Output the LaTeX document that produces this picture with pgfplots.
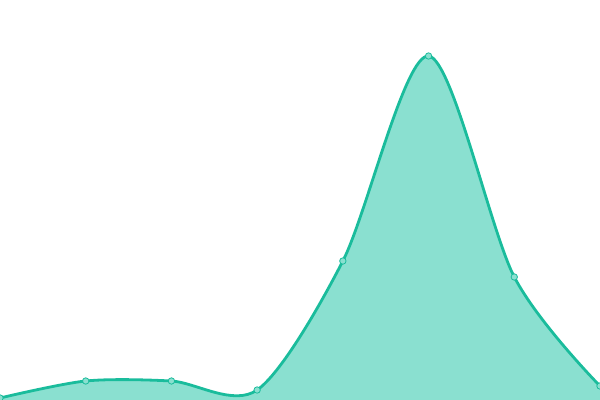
\documentclass[border=0pt]{standalone}
\usepackage{pgfplots}
\pgfplotsset{compat=1.18}
\definecolor{teal1}{HTML}{1ABC9C}
\definecolor{tealfill}{HTML}{8AE0D0}
\begin{document}
\begin{tikzpicture}
\begin{axis}[
    width=600bp, height=400bp,
    scale only axis,
    hide axis,
    xmin=0, xmax=7,
    ymin=0, ymax=400,
    clip=true,
]
% area under the curve
\addplot[draw=none, fill=tealfill, smooth, tension=0.5] coordinates {
    (0,2) (1,19) (2,19) (3,10) (4,139) (5,344) (6,123) (7,14)
} \closedcycle;

% outline with markers
\addplot[teal1, line width=2.8bp, smooth, tension=0.5, mark=*, mark size=3.2bp,
    mark options={fill=tealfill, draw=teal1, line width=0.8bp}] coordinates {
    (0,2) (1,19) (2,19) (3,10) (4,139) (5,344) (6,123) (7,14)
};
\end{axis}
\pgfresetboundingbox
\path (current axis.south west) rectangle (current axis.north east);
\end{tikzpicture}
\end{document}
